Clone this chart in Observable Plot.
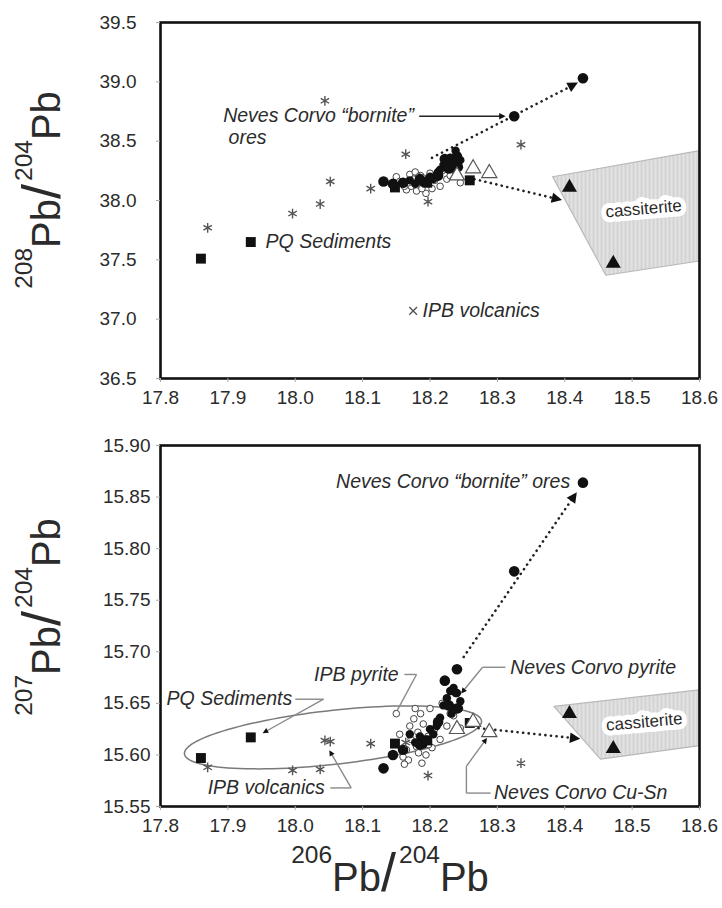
<!DOCTYPE html>
<html><head><meta charset="utf-8">
<script src="https://cdn.jsdelivr.net/npm/d3@7"></script>
<script src="https://cdn.jsdelivr.net/npm/@observablehq/plot@0.6"></script>
<style>
body{margin:0;background:#fff;}
#chart{width:722px;height:908px;position:relative;overflow:hidden;}
#chart svg{display:block;}
</style></head><body>
<svg width="0" height="0" style="position:absolute">
  <defs>
    <pattern id="hatch" patternUnits="userSpaceOnUse" width="4" height="6">
      <rect width="4" height="6" fill="#e2e2e2"></rect>
      <line x1="1" y1="0" x2="1" y2="6" stroke="#c4c4c4" stroke-width="1"></line>
    </pattern>
  </defs>
</svg>
<div id="chart"></div>
<script>
// ---------- axes ----------
const xTicks = [17.8, 17.9, 18.0, 18.1, 18.2, 18.3, 18.4, 18.5, 18.6];
const yTicksTop = [36.5, 37.0, 37.5, 38.0, 38.5, 39.0, 39.5];
const yTicksBottom = [15.55, 15.60, 15.65, 15.70, 15.75, 15.80, 15.85, 15.90];

// ---------- data (206Pb/204Pb, 208Pb/204Pb, 207Pb/204Pb) ----------
// IPB volcanics
const volcX    = [17.870, 17.996, 18.037, 18.044, 18.052, 18.112, 18.164, 18.197, 18.335];
const volcY208 = [37.77, 37.89, 37.97, 38.84, 38.16, 38.10, 38.39, 37.99, 38.47];
const volcY207 = [15.588, 15.585, 15.586, 15.614, 15.613, 15.611, 15.612, 15.580, 15.592];
// PQ Sediments
const pqX    = [17.860, 17.934, 18.148, 18.196, 18.259];
const pqY208 = [37.51, 37.65, 38.11, 38.15, 38.17];
const pqY207 = [15.597, 15.617, 15.611, 15.614, 15.631];
// Neves Corvo "bornite" ores
const bornX    = [18.131, 18.145, 18.160, 18.185, 18.212, 18.222, 18.228, 18.240, 18.240, 18.325, 18.427];
const bornY208 = [38.16, 38.14, 38.15, 38.18, 38.21, 38.35, 38.27, 38.37, 38.30, 38.71, 39.03];
const bornY207 = [15.587, 15.600, 15.605, 15.610, 15.632, 15.672, 15.648, 15.683, 15.645, 15.778, 15.864];
// Neves Corvo pyrite
const ncPyX    = [18.170, 18.178, 18.185, 18.190, 18.195, 18.200, 18.205, 18.210, 18.212, 18.215, 18.220, 18.225, 18.230, 18.232, 18.235, 18.238, 18.240, 18.243, 18.245];
const ncPyY208 = [38.17, 38.14, 38.18, 38.15, 38.17, 38.20, 38.18, 38.22, 38.24, 38.26, 38.30, 38.33, 38.36, 38.27, 38.31, 38.42, 38.38, 38.28, 38.34];
const ncPyY207 = [15.620, 15.612, 15.618, 15.610, 15.615, 15.625, 15.620, 15.628, 15.632, 15.636, 15.648, 15.655, 15.662, 15.640, 15.665, 15.660, 15.660, 15.645, 15.652];
// IPB pyrite
const ipbPyX    = [18.150, 18.160, 18.165, 18.170, 18.172, 18.176, 18.180, 18.182, 18.186, 18.188, 18.190, 18.194, 18.197, 18.200, 18.203, 18.207, 18.212, 18.218, 18.225, 18.235, 18.245, 18.155, 18.168, 18.178, 18.162, 18.188, 18.198, 18.183, 18.230, 18.215];
const ipbPyY208 = [38.20, 38.14, 38.09, 38.22, 38.12, 38.18, 38.08, 38.16, 38.21, 38.11, 38.19, 38.06, 38.14, 38.23, 38.10, 38.17, 38.20, 38.25, 38.18, 38.22, 38.15, 38.16, 38.15, 38.24, 38.12, 38.10, 38.19, 38.20, 38.21, 38.12];
const ipbPyY207 = [15.640, 15.598, 15.605, 15.628, 15.615, 15.635, 15.608, 15.622, 15.640, 15.612, 15.630, 15.600, 15.618, 15.645, 15.607, 15.625, 15.632, 15.650, 15.628, 15.638, 15.626, 15.620, 15.595, 15.645, 15.591, 15.592, 15.610, 15.602, 15.640, 15.615];
// Neves Corvo Cu-Sn
const cusnX    = [18.240, 18.264, 18.288];
const cusnY208 = [38.21, 38.27, 38.23];
const cusnY207 = [15.625, 15.632, 15.622];
// cassiterite
const cassX    = [18.407, 18.472];
const cassY208 = [38.11, 37.47];
const cassY207 = [15.640, 15.606];

// cassiterite field outlines
const cassFieldX    = [18.382, 18.600, 18.600, 18.461];
const cassFieldY208 = [38.20, 38.42, 37.49, 37.37];
const cassFieldXb   = [18.384, 18.600, 18.600, 18.453];
const cassFieldY207 = [15.647, 15.663, 15.609, 15.596];

// ellipse (centre and conjugate semi-axes, bottom panel)
const ellipseC = [18.056, 15.617];
const ellipseAx = [0.2205, 0.0155, 0.0263];

// annotations
const topDotArrows = [
  {x1: 18.203, y1: 38.36, x2: 18.415, y2: 38.98},
  {x1: 18.266, y1: 38.18, x2: 18.391, y2: 38.01}
];
const topSolidArrow = [{x1: 18.184, y1: 38.71, x2: 18.309, y2: 38.71}];
const topLabels = [
  {x: 17.893, y: 38.71, t: "Neves Corvo \u201cbornite\u201d"},
  {x: 17.901, y: 38.53, t: "ores"},
  {x: 17.956, y: 37.655, t: "PQ Sediments"},
  {x: 18.189, y: 37.07, t: "IPB volcanics"}
];
const topLegendMark = [{x: 18.175, y: 37.07}];
const topCassLabel = [{x: 18.517, y: 37.93, t: "cassiterite"}];

const botDotArrows = [
  {x1: 18.250, y1: 15.695, x2: 18.415, y2: 15.852},
  {x1: 18.272, y1: 15.626, x2: 18.418, y2: 15.616}
];
const leaderIds = ["ipbpy", "ipbpy", "ipbpy", "ncpy", "ncpy", "ncpy", "pq", "pq", "pq", "volc", "volc", "volc", "cusn", "cusn", "cusn", "cusn"];
const leaderX = [18.162, 18.180, 18.148, 18.312, 18.278, 18.248, 18.000, 18.042, 17.954, 18.052, 18.083, 18.052, 18.290, 18.254, 18.254, 18.283];
const leaderY = [15.678, 15.678, 15.639, 15.685, 15.685, 15.661, 15.654, 15.654, 15.622, 15.568, 15.568, 15.603, 15.563, 15.563, 15.589, 15.615];
const botLabelsStart = [
  {x: 18.028, y: 15.678, t: "IPB pyrite"},
  {x: 18.319, y: 15.685, t: "Neves Corvo pyrite"},
  {x: 17.809, y: 15.654, t: "PQ Sediments"},
  {x: 17.870, y: 15.568, t: "IPB volcanics"},
  {x: 18.295, y: 15.563, t: "Neves Corvo Cu-Sn"}
];
const botLabelsEnd = [
  {x: 18.408, y: 15.865, t: "Neves Corvo \u201cbornite\u201d ores"}
];
const botCassLabel = [{x: 18.518, y: 15.632, t: "cassiterite"}];

// ---------- helpers ----------
const FONT = "'Liberation Sans', Arial, Helvetica, sans-serif";
const INK = "#2b2b2b";
const LBL = 19.5;
const rows = (xs, ys) => xs.map((x, i) => ({x, y: ys[i]}));
const fmt1 = d => d.toFixed(1), fmt2 = d => d.toFixed(2);

function pointMarks(yArrs) {
  const [ipb, ncpy, born, pq, volc, cusn, cass] = yArrs;
  return [
    Plot.dot(rows(ipbPyX, ipb), {x: "x", y: "y", r: 3.3, fill: "white", stroke: "#444", strokeWidth: 1}),
    Plot.dot(rows(ncPyX, ncpy), {x: "x", y: "y", r: 4.2, fill: "#111", stroke: "none"}),
    Plot.dot(rows(bornX, born), {x: "x", y: "y", r: 5.3, fill: "#111", stroke: "none"}),
    Plot.dot(rows(pqX, pq), {x: "x", y: "y", r: 5.6, symbol: "square", fill: "#111", stroke: "none"}),
    Plot.dot(rows(volcX, volc), {x: "x", y: "y", r: 4.6, symbol: "asterisk", stroke: "#555", strokeWidth: 1.4}),
    Plot.dot(rows(cusnX, cusn), {x: "x", y: "y", r: 5.6, symbol: "triangle", fill: "white", stroke: "#555", strokeWidth: 1.2}),
    Plot.dot(rows(cassX, cass), {x: "x", y: "y", r: 5.6, symbol: "triangle", fill: "#111", stroke: "none"})
  ];
}

function axes(yTicks, yFmt, yPad) {
  return [
    Plot.frame({stroke: "#111", strokeWidth: 2.6}),
    Plot.axisX({ticks: xTicks, tickFormat: fmt1, tickSize: 4, tickPadding: 8, fontSize: 19, stroke: "#aaa", fill: INK, label: null}),
    Plot.axisY({ticks: yTicks, tickFormat: yFmt, tickSize: 4, tickPadding: yPad, fontSize: 19, stroke: "#aaa", fill: INK, label: null})
  ];
}

function addTitle(svg, x, y, rotate, parts) {
  const t = d3.select(svg).append("text")
    .attr("transform", `translate(${x},${y})` + (rotate ? ` rotate(${rotate})` : ""))
    .attr("text-anchor", "middle")
    .attr("fill", INK)
    .style("font-family", FONT);
  const sup = 24.5, big = 40, sl = 54, up = 28;
  t.append("tspan").attr("font-size", sup).attr("dy", -up).text(parts[0]);
  t.append("tspan").attr("font-size", big).attr("dy", up).text("Pb");
  t.append("tspan").attr("font-size", sl).attr("dy", 0).attr("dx", 0).text("/");
  t.append("tspan").attr("font-size", sup).attr("dy", -up).attr("dx", 3).text(parts[1]);
  t.append("tspan").attr("font-size", big).attr("dy", up).text("Pb");
}

// turn Plot's own arrow markers into small filled heads (solid, not dashed)
function fixMarkers(svg) {
  d3.select(svg).selectAll("marker").each(function () {
    const m = d3.select(this);
    m.attr("fill", "#111").attr("stroke", "none").attr("stroke-dasharray", "none");
    m.selectAll("path").attr("d", "M-4,-3L2,0L-4,3Z").attr("stroke", "none").attr("fill", "#111");
  });
}

// ---------- top panel ----------
const topPlot = Plot.plot({
  width: 722, height: 425,
  marginTop: 22, marginBottom: 47, marginLeft: 160, marginRight: 23,
  style: {fontFamily: FONT, background: "white", color: INK},
  x: {domain: [17.8, 18.6]},
  y: {domain: [36.5, 39.5]},
  marks: [
    Plot.line(rows(cassFieldX, cassFieldY208), {x: "x", y: "y", fill: "url(#hatch)", stroke: "#b8b8b8", strokeWidth: 1.2, curve: "linear-closed"}),
    Plot.link(topDotArrows, {x1: "x1", y1: "y1", x2: "x2", y2: "y2", stroke: "#222", strokeWidth: 2.6, strokeDasharray: "0.1,5.5", strokeLinecap: "round", markerEnd: "arrow"}),
    Plot.link(topSolidArrow, {x1: "x1", y1: "y1", x2: "x2", y2: "y2", stroke: "#222", strokeWidth: 1.6, markerEnd: "arrow"}),
    ...pointMarks([ipbPyY208, ncPyY208, bornY208, pqY208, volcY208, cusnY208, cassY208]),
    Plot.dot(topLegendMark, {x: "x", y: "y", r: 3.6, symbol: "times", stroke: "#555", strokeWidth: 1.4}),
    Plot.text(topLabels, {x: "x", y: "y", text: "t", textAnchor: "start", fontStyle: "italic", fontSize: LBL, fill: INK}),
    Plot.text(topCassLabel, {x: "x", y: "y", text: "t", rotate: -5, fontSize: 17, fill: INK, stroke: "white", strokeWidth: 10}),
    ...axes(yTicksTop, fmt1, 20)
  ]
});

// ---------- bottom panel ----------
const ellipsePts = d3.range(0, 361, 3).map(deg => {
  const t = deg * Math.PI / 180;
  return {x: ellipseC[0] + ellipseAx[0] * Math.cos(t), y: ellipseC[1] + ellipseAx[1] * Math.cos(t) + ellipseAx[2] * Math.sin(t)};
});
const leaderSegs = [];
for (let i = 1; i < leaderX.length; i++) {
  if (leaderIds[i] !== leaderIds[i - 1]) continue;
  leaderSegs.push({x1: leaderX[i - 1], y1: leaderY[i - 1], x2: leaderX[i], y2: leaderY[i], head: leaderIds[i + 1] !== leaderIds[i]});
}

const bottomPlot = Plot.plot({
  width: 722, height: 483,
  marginTop: 20, marginBottom: 102, marginLeft: 160, marginRight: 23,
  style: {fontFamily: FONT, background: "white", color: INK},
  x: {domain: [17.8, 18.6]},
  y: {domain: [15.55, 15.90]},
  marks: [
    Plot.line(rows(cassFieldXb, cassFieldY207), {x: "x", y: "y", fill: "url(#hatch)", stroke: "#b8b8b8", strokeWidth: 1.2, curve: "linear-closed"}),
    Plot.line(ellipsePts, {x: "x", y: "y", stroke: "#7a7a7a", strokeWidth: 1.5, curve: "linear-closed"}),
    Plot.link(botDotArrows, {x1: "x1", y1: "y1", x2: "x2", y2: "y2", stroke: "#222", strokeWidth: 2.6, strokeDasharray: "0.1,5.5", strokeLinecap: "round", markerEnd: "arrow"}),
    Plot.link(leaderSegs.filter(d => !d.head), {x1: "x1", y1: "y1", x2: "x2", y2: "y2", stroke: "#8a8a8a", strokeWidth: 1.4}),
    Plot.link(leaderSegs.filter(d => d.head), {x1: "x1", y1: "y1", x2: "x2", y2: "y2", stroke: "#8a8a8a", strokeWidth: 1.4, markerEnd: "arrow"}),
    ...pointMarks([ipbPyY207, ncPyY207, bornY207, pqY207, volcY207, cusnY207, cassY207]),
    Plot.text(botLabelsStart, {x: "x", y: "y", text: "t", textAnchor: "start", fontStyle: "italic", fontSize: LBL, fill: INK}),
    Plot.text(botLabelsEnd, {x: "x", y: "y", text: "t", textAnchor: "end", fontStyle: "italic", fontSize: LBL, fill: INK}),
    Plot.text(botCassLabel, {x: "x", y: "y", text: "t", rotate: -5, fontSize: 17, fill: INK, stroke: "white", strokeWidth: 10}),
    ...axes(yTicksBottom, fmt2, 6)
  ]
});

fixMarkers(topPlot);
fixMarkers(bottomPlot);
addTitle(topPlot, 60, 190, -90, ["208", "204"]);
addTitle(bottomPlot, 60, 192, -90, ["207", "204"]);
addTitle(bottomPlot, 390, 466, 0, ["206", "204"]);

document.getElementById("chart").append(topPlot, bottomPlot);
</script>
</body></html>
